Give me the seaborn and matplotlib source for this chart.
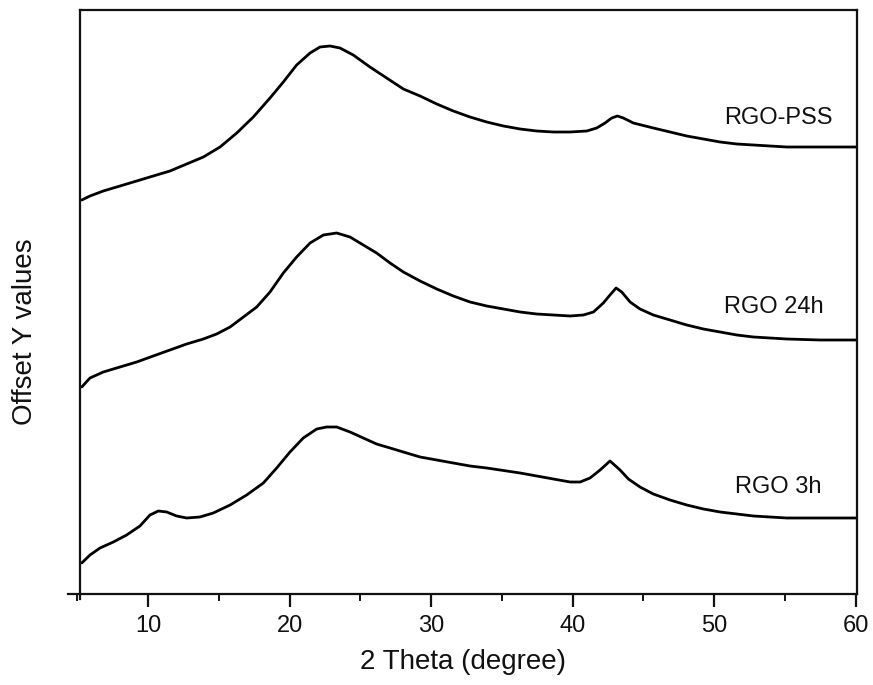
import numpy as np
import pandas as pd
import matplotlib
matplotlib.use("Agg")
import matplotlib.pyplot as plt
from matplotlib.ticker import MultipleLocator
import seaborn as sns

# ---- data (offset intensities, arbitrary units) ----
pss_x = [5.32, 5.90, 6.84, 8.02, 9.20, 10.37, 11.55, 12.73, 13.91, 15.09, 16.27, 17.44,
         18.62, 19.56, 20.50, 21.45, 22.15, 22.86, 23.56, 24.50, 25.68, 26.86, 28.04,
         29.22, 30.40, 31.57, 32.75, 33.93, 35.11, 36.29, 37.46, 38.64, 39.82, 41.00,
         41.70, 42.29, 42.76, 43.16, 43.58, 44.29, 45.70, 46.88, 48.06, 49.24, 50.42,
         51.60, 52.77, 55.13, 57.48, 60.07]
pss_y = [394, 398, 403, 408, 413, 418, 423, 430, 437, 447, 461, 477,
         496, 512, 529, 541, 547, 548, 546, 539, 527, 516, 505,
         498, 490, 483, 477, 472, 468, 465, 463, 462, 462, 463,
         466, 471, 476, 478, 476, 471, 466, 462, 458, 455, 452,
         450, 449, 447, 447, 447]

h24_x = [5.32, 5.90, 6.84, 8.02, 9.20, 10.37, 11.55, 12.73, 13.91, 14.85, 15.80, 16.74,
         17.68, 18.62, 19.56, 20.50, 21.45, 22.39, 23.33, 24.27, 25.21, 26.15, 27.10,
         28.04, 29.22, 30.40, 31.57, 32.75, 33.93, 35.11, 36.29, 37.46, 38.64, 39.82,
         40.76, 41.47, 42.17, 42.64, 43.07, 43.47, 44.06, 44.76, 45.70, 46.88, 48.06,
         49.24, 50.42, 51.60, 52.77, 55.13, 57.48, 60.07]
h24_y = [207, 216, 222, 227, 232, 238, 244, 250, 255, 260, 267, 277,
         287, 302, 321, 337, 351, 359, 361, 357, 349, 341, 331,
         322, 313, 305, 298, 292, 288, 285, 282, 280, 279, 278,
         279, 282, 291, 299, 306, 302, 292, 285, 279, 274, 269,
         265, 262, 259, 257, 255, 254, 254]

h3_x = [5.32, 5.90, 6.61, 7.55, 8.49, 9.43, 10.14, 10.73, 11.32, 12.02, 12.73, 13.67,
        14.61, 15.80, 16.97, 18.15, 19.09, 20.03, 20.97, 21.92, 22.62, 23.33, 24.27,
        25.21, 26.15, 27.10, 28.04, 29.22, 30.40, 31.57, 32.75, 33.93, 36.29, 38.64,
        39.82, 40.53, 41.23, 41.94, 42.64, 43.35, 43.94, 44.76, 45.70, 46.88, 48.06,
        49.24, 50.42, 51.60, 52.77, 55.13, 57.48, 60.07]
h3_y = [31, 39, 46, 52, 59, 68, 79, 83, 82, 78, 76, 77,
        81, 89, 99, 111, 126, 142, 156, 165, 167, 167, 162,
        156, 150, 146, 142, 137, 134, 131, 128, 126, 121, 115,
        112, 112, 116, 124, 133, 124, 115, 107, 100, 94, 89,
        85, 82, 80, 78, 76, 76, 76]

series_names = ["RGO-PSS", "RGO 24h", "RGO 3h"]
label_x = [54.5, 54.2, 54.5]
label_y = [476, 287, 107]
x_ticks = [10, 20, 30, 40, 50, 60]

df = pd.concat([
    pd.DataFrame({"x": pss_x, "y": pss_y, "sample": series_names[0]}),
    pd.DataFrame({"x": h24_x, "y": h24_y, "sample": series_names[1]}),
    pd.DataFrame({"x": h3_x, "y": h3_y, "sample": series_names[2]}),
])

sns.set_style("ticks")
plt.rcParams["font.family"] = ["Liberation Sans", "DejaVu Sans"]

fig = plt.figure(figsize=(8.73, 6.85), dpi=100)
ax = fig.add_axes([0.0779, 0.13285, 0.90377, 0.85255])

sns.lineplot(data=df, x="x", y="y", hue="sample", units="sample", estimator=None,
             sort=False, palette=["black"] * 3, linewidth=2.0, legend=False, ax=ax)
for ln in ax.get_lines():
    ln.set_solid_joinstyle("round")
    ln.set_solid_capstyle("round")

for name, lx, ly in zip(series_names, label_x, label_y):
    ax.text(lx, ly, name, ha="center", va="center", fontsize=17, color="#111111")

ax.set_xlim(4.348, 60.09)
ax.set_ylim(0, 584)
ax.set_xticks(x_ticks)
ax.set_xticklabels([str(t) for t in x_ticks])
ax.xaxis.set_minor_locator(MultipleLocator(5))
ax.set_yticks([])

for s in ax.spines.values():
    s.set_linewidth(1.6)
    s.set_color("#111111")
ax.spines["left"].set_position(("data", 5.2))
ax.spines["top"].set_bounds(5.2, 60.09)
ax.spines["left"].set_bounds(-5, 584)

ax.tick_params(axis="x", which="major", direction="out", length=9, width=1.6,
               labelsize=17, pad=6, colors="#111111")
ax.tick_params(axis="x", which="minor", direction="out", length=5, width=1.4,
               colors="#111111")

ax.set_xlabel("2 Theta (degree)", fontsize=20, labelpad=9, color="#111111")
ax.set_ylabel("Offset Y values", fontsize=20, color="#111111")
ax.yaxis.set_label_coords(-0.038, 0.45)

fig.savefig("out.png", dpi=100)
